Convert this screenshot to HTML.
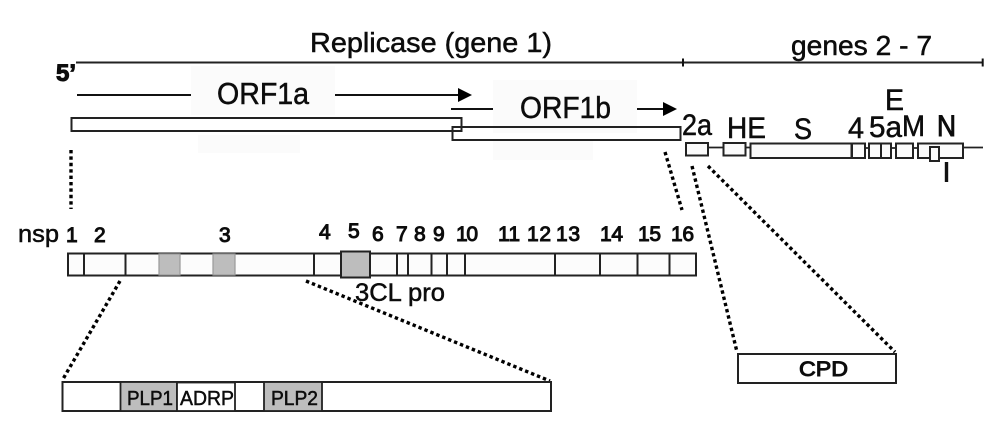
<!DOCTYPE html>
<html><head><meta charset="utf-8"><style>
html,body{margin:0;padding:0;background:#fff}
svg{display:block}
text{font-family:"Liberation Sans",sans-serif;fill:#0c0c0c;stroke:#0c0c0c;stroke-width:.5px}
.n{font-size:21px}
.n text{stroke-width:1px}
.h{stroke-width:1px}
.d{stroke:#000;stroke-width:3.4px;stroke-dasharray:3.4 3;fill:none}
.b{stroke:#222;stroke-width:2px}
</style></head><body>
<svg width="1000" height="430" viewBox="0 0 1000 430" xmlns="http://www.w3.org/2000/svg">
<rect width="1000" height="430" fill="#fff"/>
<g fill="#fbfbfb">
<rect x="191" y="66" width="144" height="49"/><rect x="198" y="135" width="102" height="18"/>
<rect x="493" y="80" width="144" height="53"/><rect x="493" y="141" width="100" height="19"/>
</g>
<!-- top scale -->
<path d="M76 62.5H983" stroke="#222" stroke-width="2" fill="none"/>
<path d="M683 58.5v8M982.7 58.5v8" stroke="#111" stroke-width="2"/>
<text x="310" y="52" font-size="28" textLength="242" lengthAdjust="spacingAndGlyphs">Replicase (gene 1)</text>
<text x="791" y="55" font-size="28" textLength="141" lengthAdjust="spacingAndGlyphs">genes 2 - 7</text>
<text x="56" y="81" font-size="24" font-weight="bold" class="h">5’</text>
<!-- ORF arrows -->
<path d="M77 95H191M335 95H460M451 109H493M637 109H665" stroke="#111" stroke-width="2" fill="none"/>
<path d="M458 88L472 95L458 102ZM663 102L677 109L663 116Z" fill="#000"/>
<text x="217" y="104" font-size="31" textLength="92" lengthAdjust="spacingAndGlyphs">ORF1a</text>
<text x="520" y="118" font-size="31" textLength="91" lengthAdjust="spacingAndGlyphs">ORF1b</text>
<rect x="71.5" y="118" width="390" height="13" fill="#fff" class="b"/>
<rect x="452.500" y="127" width="228" height="13" fill="none" class="b"/>
<path d="M461.500 127V131" class="b"/>
<!-- genes -->
<path d="M708 147.500H723M745 147.500H750M865 148H869M891 148H896M913 148H918M963 147.500H983" stroke="#222" stroke-width="1.800" fill="none"/>
<g fill="#fbfbfb" class="b">
<rect x="686" y="143" width="22" height="12.500"/>
<rect x="723.500" y="143" width="22" height="12.500"/>
<rect x="750.500" y="143.500" width="101" height="14.500"/>
<rect x="852" y="143.500" width="13" height="14.500"/>
<rect x="869" y="143.500" width="12" height="14.500"/>
<rect x="881" y="143.500" width="10" height="14.500"/>
<rect x="896" y="143.500" width="17" height="14.500"/>
<rect x="918" y="143.500" width="45" height="14.500"/>
<rect x="930" y="147" width="9" height="14"/>
</g>
<g font-size="30">
<text x="682" y="135" textLength="30" lengthAdjust="spacingAndGlyphs">2a</text>
<text x="727" y="138" textLength="39" lengthAdjust="spacingAndGlyphs">HE</text>
<text x="794" y="139" textLength="18" lengthAdjust="spacingAndGlyphs">S</text>
<text x="848" y="138" textLength="16" lengthAdjust="spacingAndGlyphs">4</text>
<text x="869" y="137" textLength="33" lengthAdjust="spacingAndGlyphs">5a</text>
<text x="902" y="136" textLength="23" lengthAdjust="spacingAndGlyphs">M</text>
<text x="937" y="136" textLength="19" lengthAdjust="spacingAndGlyphs" class="h">N</text>
<text x="885" y="110" textLength="19" lengthAdjust="spacingAndGlyphs">E</text>
</g>
<rect x="944.800" y="162" width="3.400" height="20" fill="#111"/>
<!-- dotted -->
<path class="d" d="M71 150V209"/>
<path class="d" d="M665 152L682 210"/>
<path class="d" d="M692 166L737 352"/>
<path class="d" d="M708 166L895 352"/>
<path class="d" d="M120 281L63 379"/>
<path class="d" d="M306 281L550 381"/>
<!-- nsp bar -->
<rect x="68" y="253.500" width="628" height="22" fill="#fcfcfc" class="b"/>
<rect x="159" y="254" width="21" height="21" fill="#bdbdbd" stroke="#999" stroke-width="1.200"/>
<rect x="213" y="254" width="22" height="21" fill="#bdbdbd" stroke="#999" stroke-width="1.200"/>
<rect x="341" y="251.500" width="29" height="26" fill="#bdbdbd" class="b"/>
<path class="b" fill="none" d="M84 253.500v22M125.500 253.500v22M314 253.500v22M397 253.500v22M408 253.500v22M431.500 253.500v22M447 253.500v22M465 253.500v22M555 253.500v22M600 253.500v22M637.500 253.500v22M669.500 253.500v22"/>
<text x="18" y="242" font-size="24" textLength="41" lengthAdjust="spacingAndGlyphs">nsp</text>
<g class="n">
<text x="66" y="242">1</text><text x="94" y="242">2</text><text x="219" y="242">3</text>
<text x="319" y="239">4</text><text x="348" y="238">5</text><text x="372" y="241">6</text>
<text x="396" y="241">7</text><text x="414" y="241">8</text><text x="433" y="241">9</text>
<text x="456" y="241" textLength="22">10</text><text x="498" y="241" textLength="22">11</text><text x="527" y="241" textLength="24">12</text>
<text x="556" y="241" textLength="24">13</text><text x="600" y="241" textLength="23">14</text><text x="638" y="241" textLength="23">15</text><text x="671" y="241" textLength="23">16</text>
</g>
<text x="355" y="301" font-size="25" textLength="90" lengthAdjust="spacingAndGlyphs">3CL pro</text>
<!-- CPD -->
<rect x="738" y="354" width="158" height="29" fill="#fff" stroke="#222" stroke-width="2"/>
<text x="799" y="376" font-size="21" textLength="49" lengthAdjust="spacingAndGlyphs" class="h">CPD</text>
<!-- bottom bar -->
<rect x="62.500" y="382" width="488.500" height="29" fill="#fff" stroke="#222" stroke-width="2"/>
<rect x="120.500" y="382" width="56.500" height="29" fill="#bdbdbd" stroke="#222" stroke-width="1.800"/>
<rect x="177" y="382.500" width="58" height="28.500" fill="#fff" stroke="#222" stroke-width="1.800"/>
<rect x="264" y="382" width="58" height="29" fill="#bdbdbd" stroke="#222" stroke-width="1.800"/>
<text x="127" y="405" font-size="20" textLength="46" lengthAdjust="spacingAndGlyphs">PLP1</text>
<text x="180" y="405" font-size="20" textLength="54" lengthAdjust="spacingAndGlyphs">ADRP</text>
<text x="271" y="405" font-size="20" textLength="47" lengthAdjust="spacingAndGlyphs">PLP2</text>
</svg>
</body></html>
